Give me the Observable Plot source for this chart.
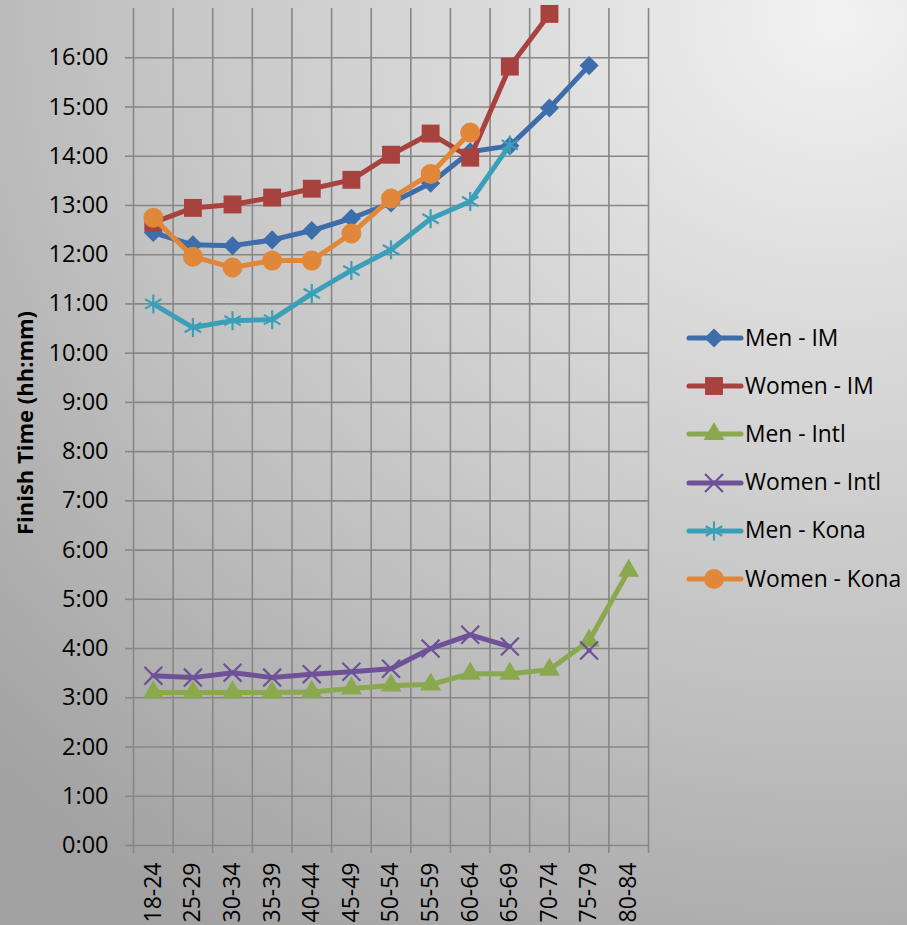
<!DOCTYPE html>
<html>
<head>
<meta charset="utf-8">
<script src="https://cdn.jsdelivr.net/npm/d3@7"></script>
<script src="https://cdn.jsdelivr.net/npm/@observablehq/plot@0.6"></script>
<style>
  html, body { margin: 0; padding: 0; }
  #chart {
    position: relative;
    width: 907px;
    height: 925px;
    overflow: hidden;
    font-family: "Open Sans", sans-serif;
    background: radial-gradient(ellipse 130% 115% at 92% 2%, #f2f2f2 0%, #dadada 30%, #c2c2c2 62%, #a2a2a2 100%);
  }
  #legend { position: absolute; left: 686px; top: 314px; }
  .row { display: flex; align-items: center; height: 48.2px; white-space: nowrap; }
  .row span { font-size: 22.8px; color: #000; margin-left: 1px; line-height: 1; }
</style>
</head>
<body>
<div id="chart"></div>
<script>
// Age groups along the x axis
const categories = ["18-24","25-29","30-34","35-39","40-44","45-49","50-54","55-59","60-64","65-69","70-74","75-79","80-84"];

// Average finish times in hours (null = no finishers in that group)
const menIM     = [12.45, 12.20, 12.18, 12.30, 12.49, 12.74, 13.05, 13.45, 14.09, 14.21, 14.98, 15.84, null];
const womenIM   = [12.65, 12.95, 13.02, 13.16, 13.34, 13.52, 14.03, 14.46, 13.97, 15.82, 16.89, null, null];
const menIntl   = [3.11, 3.11, 3.11, 3.11, 3.12, 3.19, 3.25, 3.27, 3.49, 3.49, 3.57, 4.16, 5.58];
const womenIntl = [3.45, 3.41, 3.51, 3.41, 3.48, 3.53, 3.59, 4.00, 4.28, 4.04, null, 3.96, null];
const menKona   = [11.00, 10.52, 10.66, 10.68, 11.21, 11.68, 12.10, 12.73, 13.08, 14.23, null, null, null];
const womenKona = [12.75, 11.96, 11.74, 11.88, 11.88, 12.43, 13.14, 13.64, 14.48, null, null, null, null];

const yTicks = d3.range(0, 17);          // 0:00 … 16:00
const yTitle = "Finish Time (hh:mm)";

const series = [
  {name: "Men - IM",     values: menIM,     color: "#3E6DAB", symbol: "diamond2",  r: 8.6, filled: true},
  {name: "Women - IM",   values: womenIM,   color: "#A8423F", symbol: "square2",   r: 11.4, filled: true},
  {name: "Men - Intl",   values: menIntl,   color: "#8AA84E", symbol: "triangle2", r: 10, filled: true},
  {name: "Women - Intl", values: womenIntl, color: "#6E5198", symbol: "times",     r: 8.2, filled: false},
  {name: "Men - Kona",   values: menKona,   color: "#3C9FB8", symbol: "asterisk",  r: 9, filled: false},
  {name: "Women - Kona", values: womenKona, color: "#E1873A", symbol: "circle",    r: 10, filled: true}
];

const grid = "#878787";
const boundaries = d3.range(0, categories.length + 1);
const centers = categories.map((c, i) => i + 0.5);

const seriesMarks = series.flatMap(s => {
  const rows = s.values.map((v, i) => ({x: i + 0.5, y: v}));
  return [
    Plot.line(rows, {x: "x", y: "y", stroke: s.color, strokeWidth: 5, strokeLinejoin: "round", strokeLinecap: "round"}),
    Plot.dot(rows.filter(d => d.y != null), {
      x: "x", y: "y", symbol: s.symbol, r: s.r,
      fill: s.filled ? s.color : "none",
      stroke: s.filled ? "none" : s.color,
      strokeWidth: s.filled ? 0 : 2.2
    })
  ];
});

const chart = Plot.plot({
  width: 907,
  height: 925,
  marginLeft: 133,
  marginRight: 259,
  marginTop: 8,
  marginBottom: 80,
  style: {background: "transparent", fontFamily: "Open Sans, sans-serif", fontSize: "23.5px", color: "#000", overflow: "visible"},
  x: {type: "linear", domain: [0, categories.length]},
  y: {type: "linear", domain: [0, 17]},
  marks: [
    Plot.ruleY(yTicks, {stroke: grid, strokeWidth: 1.6}),
    Plot.ruleX(boundaries, {stroke: grid, strokeWidth: 1.6}),
    Plot.axisY({ticks: yTicks, tickSize: 8, tickPadding: 17, stroke: grid, strokeWidth: 1.6, fill: "#000",
                tickFormat: d => `${d}:00`, label: null, fontSize: 23.5}),
    Plot.axisX({ticks: boundaries, tickSize: 8, stroke: grid, strokeWidth: 1.6, tickFormat: () => "", label: null}),
    Plot.axisX({ticks: centers, tickSize: 0, tickPadding: 17, tickRotate: -90, fill: "#000",
                tickFormat: d => categories[Math.floor(d)], label: null, fontSize: 23}),
    Plot.text([yTitle], {frameAnchor: "left", textAnchor: "middle", dx: -108, dy: -4, rotate: -90,
                         fontWeight: "bold", fontSize: 22, fill: "#000"}),
    ...seriesMarks
  ]
});

const root = document.getElementById("chart");
root.appendChild(chart);

// Legend: line sample with the series marker, then the series name
const legend = document.createElement("div");
legend.id = "legend";
const symbolTypes = {
  diamond2: d3.symbolDiamond2, square2: d3.symbolSquare2, triangle2: d3.symbolTriangle2,
  times: d3.symbolTimes, asterisk: d3.symbolAsterisk, circle: d3.symbolCircle
};
for (const s of series) {
  const row = document.createElement("div");
  row.className = "row";
  const svg = d3.create("svg").attr("width", 58).attr("height", 26);
  svg.append("line").attr("x1", 3).attr("x2", 55).attr("y1", 13).attr("y2", 13)
    .attr("stroke", s.color).attr("stroke-width", 5).attr("stroke-linecap", "round");
  svg.append("path")
    .attr("transform", "translate(28,13)")
    .attr("d", d3.symbol(symbolTypes[s.symbol], Math.PI * s.r * s.r)())
    .attr("fill", s.filled ? s.color : "none")
    .attr("stroke", s.filled ? "none" : s.color)
    .attr("stroke-width", 2.2);
  row.appendChild(svg.node());
  const label = document.createElement("span");
  label.textContent = s.name;
  row.appendChild(label);
  legend.appendChild(row);
}
root.appendChild(legend);
</script>
</body>
</html>
